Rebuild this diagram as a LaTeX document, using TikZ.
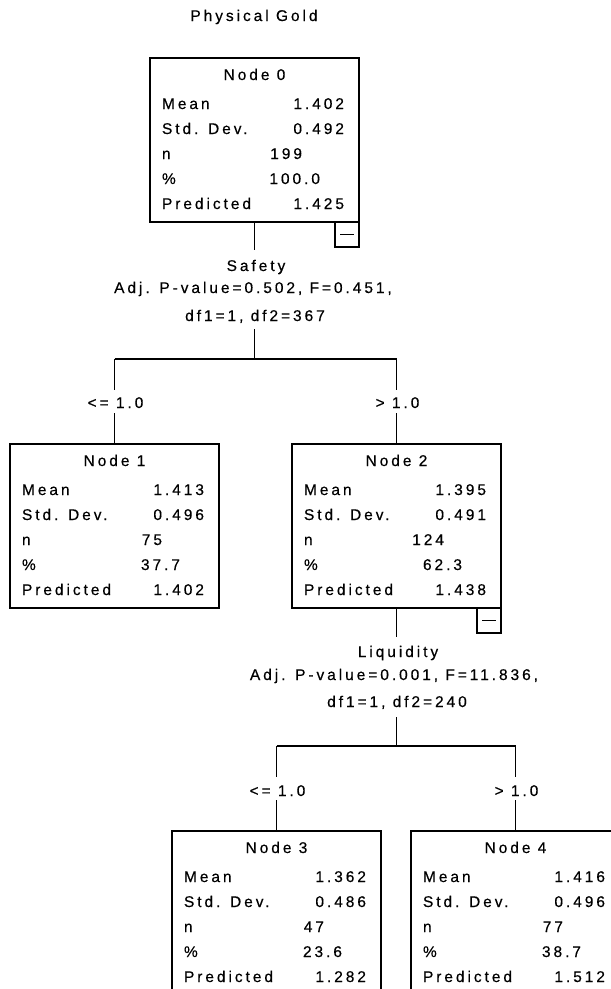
\documentclass[tikz,border=0pt]{standalone}
\usepackage{fontspec}
\setmainfont{Liberation Sans}[LetterSpace=19, FakeBold=0.4]
\usetikzlibrary{calc}
\tikzset{
  box/.style={draw, line width=1.2pt, minimum width=209pt, minimum height=164pt, inner sep=0pt, outer sep=0pt},
  minusbox/.style={draw, line width=1.2pt, minimum width=24pt, minimum height=25pt, inner sep=0pt, outer sep=0pt},
  txt/.style={inner sep=0pt, outer sep=0pt, font=\fontsize{15.5}{17}\selectfont},
  conn/.style={line width=1.2pt},
}
\newcommand{\spssnode}[9]{%
  \node[box, anchor=north west] (#1) at (#2,#3) {};
  \begin{scope}[shift={(#2,#3)}]
    \node[txt, anchor=base] (#1t) at (104.5,22) {#4};
    \node[txt, anchor=base west] (#1la) at (12,51) {Mean};
    \node[txt, anchor=base west] (#1lb) at (12,76) {Std. Dev.};
    \node[txt, anchor=base west] (#1lc) at (12,101) {n};
    \node[txt, anchor=base west] (#1ld) at (12,126) {\%};
    \node[txt, anchor=base west] (#1le) at (12,151) {Predicted};
    \node[txt, anchor=base east] (#1va) at (194,51) {#5};
    \node[txt, anchor=base east] (#1vb) at (194,76) {#6};
    \node[txt, anchor=base east] (#1vc) at (152,101) {#7};
    \node[txt, anchor=base east] (#1vd) at (170,126) {#8};
    \node[txt, anchor=base east] (#1ve) at (194,151) {#9};
  \end{scope}}
\newcommand{\minusmark}[1]{%
  \node[minusbox, anchor=north east] (#1m) at (#1.south east) {};
  \draw[conn] ($(#1m.west)+(5,0)$) -- ($(#1m.east)+(-5,0)$);}
\begin{document}
\begin{tikzpicture}[x=1pt, y=-1pt]
\useasboundingbox (0,0) rectangle (611,989);
\fill[white] (0,0) rectangle (611,989);
\clip (0,0) rectangle (611,989);

\node[txt, anchor=base] (title) at (254,21) {Physical Gold};

\spssnode{n0}{150}{58}{Node 0}{1.402}{0.492}{199}{100.0}{1.425}
\minusmark{n0}
\spssnode{n1}{10}{444}{Node 1}{1.413}{0.496}{75}{37.7}{1.402}
\spssnode{n2}{292}{444}{Node 2}{1.395}{0.491}{124}{62.3}{1.438}
\minusmark{n2}
\spssnode{n3}{172}{831}{Node 3}{1.362}{0.486}{47}{23.6}{1.282}
\spssnode{n4}{411}{831}{Node 4}{1.416}{0.496}{77}{38.7}{1.512}

% first split
\node[txt, anchor=base] (s0a) at (256,271) {Safety};
\node[txt, anchor=base] (s0b) at (253,293) {Adj. P-value=0.502, F=0.451,};
\node[txt, anchor=base] (s0c) at (255,321) {df1=1, df2=367};
\coordinate (s0top) at (254.5,250);
\coordinate (s0bot) at (254.5,329);
\coordinate (j0) at (254.5,359);
\coordinate (j0l) at (n1.north |- j0);
\coordinate (j0r) at (n2.north |- j0);
\node[txt, anchor=base] (e1) at (115.5,408) {<= 1.0};
\node[txt, anchor=base] (e2) at (397.5,408) {> 1.0};
\draw[conn] (n0.south) -- (s0top);
\draw[conn] (s0bot) -- (j0);
\draw[conn] (j0l) -- (j0r);
\draw[conn] (j0l) -- (n1.north |- 0,390);
\draw[conn] (n1.north |- 0,413) -- (n1.north);
\draw[conn] (j0r) -- (n2.north |- 0,390);
\draw[conn] (n2.north |- 0,413) -- (n2.north);

% second split
\node[txt, anchor=base] (s1a) at (398,657) {Liquidity};
\node[txt, anchor=base] (s1b) at (394,680) {Adj. P-value=0.001, F=11.836,};
\node[txt, anchor=base] (s1c) at (397,707) {df1=1, df2=240};
\coordinate (s1top) at (396.5,637);
\coordinate (s1bot) at (396.5,717);
\coordinate (j1) at (396.5,746);
\coordinate (j1l) at (n3.north |- j1);
\coordinate (j1r) at (n4.north |- j1);
\node[txt, anchor=base] (e3) at (277.5,796) {<= 1.0};
\node[txt, anchor=base] (e4) at (516.5,796) {> 1.0};
\draw[conn] (n2.south) -- (s1top);
\draw[conn] (s1bot) -- (j1);
\draw[conn] (j1l) -- (j1r);
\draw[conn] (j1l) -- (n3.north |- 0,777);
\draw[conn] (n3.north |- 0,800) -- (n3.north);
\draw[conn] (j1r) -- (n4.north |- 0,777);
\draw[conn] (n4.north |- 0,800) -- (n4.north);
\end{tikzpicture}
\end{document}
